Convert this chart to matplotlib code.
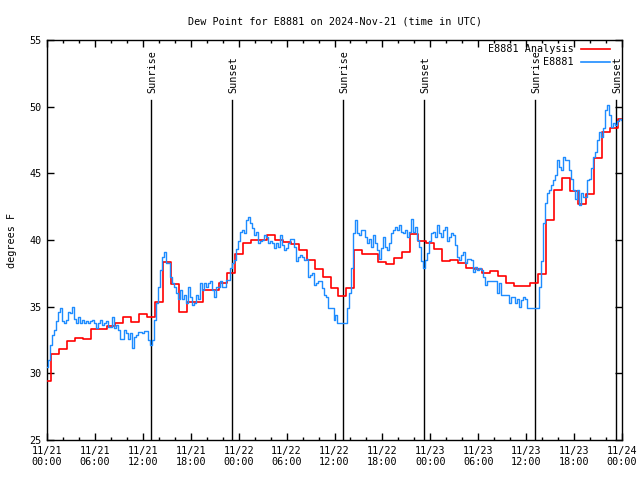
import matplotlib
matplotlib.use("Agg")
import matplotlib.pyplot as plt
import matplotlib.dates as mdates
from matplotlib.lines import Line2D
import pandas as pd
import numpy as np

# Hourly analysis values (11/21 00:00 .. 11/24 00:00)
analysis = [29.4, 31.45, 31.8, 32.45, 32.67, 32.55, 33.3, 33.3, 33.55, 33.75,
            34.2, 33.83, 34.45, 34.22, 35.32, 38.33, 36.7, 34.6, 35.35, 35.35,
            36.25, 36.25, 36.75, 37.5, 38.95, 39.8, 40.0, 40.0, 40.37, 40.0,
            39.88, 39.67, 39.25, 38.47, 37.8, 37.25, 36.37, 35.8, 36.37, 39.25,
            38.95, 38.95, 38.33, 38.2, 38.62, 39.07, 40.45, 39.9, 39.8, 39.3,
            38.4, 38.47, 38.27, 37.92, 37.85, 37.5, 37.7, 37.27, 36.77, 36.55,
            36.55, 36.77, 37.47, 41.5, 43.75, 44.62, 43.67, 42.67, 43.42, 46.12,
            48.07, 48.42, 49.07]

# Station observations every 15 minutes
station = [
    30.5, 31.0, 32.1, 32.9,   33.25, 33.9, 34.6, 34.9,   33.9, 33.75, 34.0, 34.6,
    34.5, 35.0, 34.1, 33.75,  34.25, 33.75, 34.0, 33.75, 33.9, 33.75, 33.9, 34.0,
    33.75, 33.4, 33.75, 34.0, 33.6, 33.75, 33.9, 33.5,   33.5, 34.25, 33.4, 33.6,
    33.25, 32.6, 32.6, 33.25, 33.0, 32.6, 33.0, 31.9,   32.75, 32.9, 33.1, 33.1,
    33.0, 33.2, 33.2, 32.5,   32.1, 32.5, 34.0, 35.25,  36.5, 37.75, 38.75, 39.1,
    38.25, 38.25, 37.25, 36.75, 36.5, 36.0, 35.6, 36.25, 35.6, 35.9, 35.25, 36.5,
    35.75, 35.1, 35.25, 35.9, 35.6, 36.75, 36.25, 36.75, 36.5, 36.75, 36.9, 36.25,
    35.75, 36.5, 36.5, 36.9, 36.5, 36.5, 37.0, 37.0,    37.9, 38.25, 38.5, 39.3,
    39.9, 40.6, 40.75, 40.5,  41.5, 41.75, 41.25, 40.9, 40.4, 40.6, 39.75, 39.9,
    40.0, 40.4, 40.25, 39.75, 39.9, 39.75, 39.4, 39.75, 39.5, 40.4, 39.6, 39.25,
    39.4, 39.75, 40.1, 40.1,  39.5, 38.4, 38.75, 38.9,  38.75, 38.5, 38.6, 37.25,
    37.4, 37.5, 36.6, 36.75,  36.9, 36.9, 36.4, 35.9,   35.75, 34.9, 34.9, 34.9,
    34.0, 34.4, 33.8, 33.8,   33.8, 33.8, 33.8, 34.9,   36.0, 37.9, 40.5, 41.5,
    40.5, 40.4, 40.75, 40.75, 40.25, 39.75, 40.1, 39.5, 40.4, 39.75, 39.25, 38.6,
    39.4, 40.25, 39.5, 39.25, 39.75, 40.5, 40.75, 41.0, 40.75, 41.1, 40.6, 40.5,
    40.75, 40.25, 40.6, 41.6, 40.6, 41.0, 40.0, 39.5,   38.4, 37.9, 38.5, 39.0,
    39.9, 40.5, 40.6, 40.25,  41.1, 40.5, 40.25, 40.75, 41.0, 39.9, 40.25, 40.5,
    40.4, 39.6, 38.75, 38.5,  38.9, 39.1, 38.25, 38.55, 38.55, 38.5, 37.6, 38.0,
    37.75, 37.9, 37.75, 37.25, 36.6, 36.9, 36.9, 36.9,  36.9, 36.9, 36.0, 36.75,
    35.9, 35.9, 35.9, 35.9,   35.25, 35.75, 35.75, 35.25, 35.6, 35.0, 35.5, 35.75,
    35.6, 34.9, 34.9, 34.9,   34.9, 34.9, 34.9, 36.5,   38.4, 41.25, 42.75, 43.5,
    43.75, 44.1, 44.5, 44.9,  46.0, 45.5, 45.25, 46.25, 46.0, 46.0, 45.25, 44.6,
    43.75, 43.1, 43.75, 42.6, 43.5, 43.25, 43.25, 44.5, 44.6, 45.4, 46.25, 46.6,
    47.5, 48.1, 47.75, 48.4,  49.75, 50.1, 49.4, 48.5,  48.75, 48.6, 48.9, 49.1,
    49.0]

events = ["2024-11-21 13:04", "2024-11-21 23:12", "2024-11-22 13:06",
          "2024-11-22 23:15", "2024-11-23 13:09", "2024-11-23 23:18"]
event_labels = ["Sunrise", "Sunset", "Sunrise", "Sunset", "Sunrise", "Sunset"]

series_labels = ["E8881 Analysis", "E8881"]
series_colors = ["#ff0000", "#1e8cff"]

t_analysis = pd.date_range("2024-11-21 00:00", periods=len(analysis), freq="1h")
t_station = pd.date_range("2024-11-21 00:00", periods=len(station), freq="15min")

FS = 7.3
plt.rcParams['font.family'] = ['DejaVu Sans Mono', 'DejaVu Sans']
fig = plt.figure(figsize=(6.4, 4.8), dpi=100)
ax = fig.add_axes([47/640, 40/480, 575/640, 400/480])

ax.plot(t_analysis, analysis, color=series_colors[0], lw=1.2, drawstyle="steps-mid", zorder=3)
ax.plot(t_station, station, color=series_colors[1], lw=1.0, drawstyle="steps-mid", zorder=4)

for ev, lab in zip(events, event_labels):
    t = pd.Timestamp(ev)
    ax.plot([t, t], [25, 50.5], color="black", lw=1.0, zorder=2)
    ax.text(t + pd.Timedelta(minutes=10), 51.0, lab, rotation=90, ha="center",
            va="bottom", fontsize=FS)

# legend (right-aligned labels, sample line on the right, as in gnuplot)
for i, (lab, col) in enumerate(zip(series_labels, series_colors)):
    yy = 0.9775 - i * 0.0325
    ax.text(0.9165, yy, lab, transform=ax.transAxes, ha="right", va="center",
            fontsize=FS, zorder=6)
    ax.add_line(Line2D([0.9287, 0.979], [yy, yy], transform=ax.transAxes,
                       color=col, lw=1.2, zorder=6))

xmin = pd.Timestamp("2024-11-21 00:00")
xmax = pd.Timestamp("2024-11-24 00:00")
ax.set_xlim(xmin, xmax)
ax.set_ylim(25, 55)
ax.set_yticks(np.arange(25, 56, 5))
ax.xaxis.set_major_locator(mdates.HourLocator(byhour=[0, 6, 12, 18]))
ax.xaxis.set_minor_locator(mdates.HourLocator(byhour=range(0, 24, 2)))
ax.xaxis.set_major_formatter(mdates.DateFormatter("%m/%d\n%H:%M"))
ax.tick_params(axis="both", which="major", direction="in", top=True, right=True,
               length=5, width=1, labelsize=FS, pad=4)
ax.tick_params(axis="x", which="minor", direction="in", top=True, bottom=True,
               length=2.5, width=1)
for s in ax.spines.values():
    s.set_linewidth(1.0)

ax.set_ylabel("degrees F", fontsize=FS, labelpad=9)
ax.set_title("Dew Point for E8881 on 2024-Nov-21 (time in UTC)", fontsize=FS, pad=11.5)

fig.savefig("out.png", dpi=100)
